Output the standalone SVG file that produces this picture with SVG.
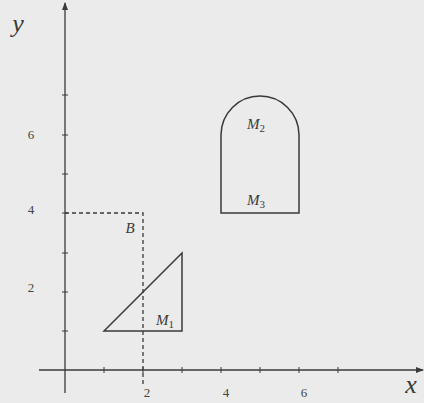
<svg xmlns="http://www.w3.org/2000/svg" width="424" height="403" viewBox="0 0 424 403">
<style>
.ax{stroke:#3a3a3a;stroke-width:1.3;fill:none}
.tk{stroke:#3a3a3a;stroke-width:1;fill:none}
.sh{stroke:#3a3a3a;stroke-width:1.5;fill:none}
.ds{stroke:#3a3a3a;stroke-width:1.3;fill:none;stroke-dasharray:4,3}
.num{font-family:"Liberation Serif",serif;font-size:13px;fill:#444;text-anchor:middle}
.it{font-family:"Liberation Serif",serif;font-style:italic;fill:#3a3a3a;text-anchor:middle}
.lb{font-family:"Liberation Serif",serif;font-style:italic;font-size:15px;fill:#3a3a3a}
.sub{font-family:"Liberation Serif",serif;font-size:11px;font-style:normal;fill:#3a3a3a}
</style>
<defs>
<marker id="ar" markerWidth="8" markerHeight="8" refX="7" refY="4" orient="auto" markerUnits="userSpaceOnUse">
<path d="M0,1 L8,4 L0,7 Z" fill="#3a3a3a"/>
</marker>
</defs>
<rect width="424" height="403" fill="#ebebeb"/>
<g id="axes">
<line class="ax" x1="39" y1="370" x2="423" y2="370" marker-end="url(#ar)"/>
<line class="ax" x1="65" y1="393" x2="65" y2="3" marker-end="url(#ar)"/>
<g class="tk">
<path d="M104,367v6M143,367v6M182,367v6M221,367v6M260,367v6M299,367v6M338,367v6"/>
<path d="M62,331h6M62,292h6M62,253h6M62,213h6M62,174h6M62,135h6M62,95h6"/>
</g>
<text class="num" x="147" y="397">2</text>
<text class="num" x="226" y="397">4</text>
<text class="num" x="304" y="397">6</text>
<text class="num" x="31" y="292">2</text>
<text class="num" x="31" y="214">4</text>
<text class="num" x="31" y="139">6</text>
<text class="it" x="18" y="32" font-size="26">y</text>
<text class="it" x="411" y="393" font-size="26">x</text>
</g>
<g id="B">
<path class="ds" d="M65,213H143V385"/>
<text class="it" x="130" y="233" font-size="15">B</text>
</g>
<g id="M1">
<path class="sh" d="M104,331L182,253V331Z"/>
<text class="lb" x="156" y="325">M<tspan class="sub" dy="3">1</tspan></text>
</g>
<g id="M2M3">
<path class="sh" d="M221,213V135A39,39 0 0 1 299,135V213Z"/>
<text class="lb" x="247" y="129">M<tspan class="sub" dy="3">2</tspan></text>
<text class="lb" x="247" y="205">M<tspan class="sub" dy="3">3</tspan></text>
</g>
</svg>
